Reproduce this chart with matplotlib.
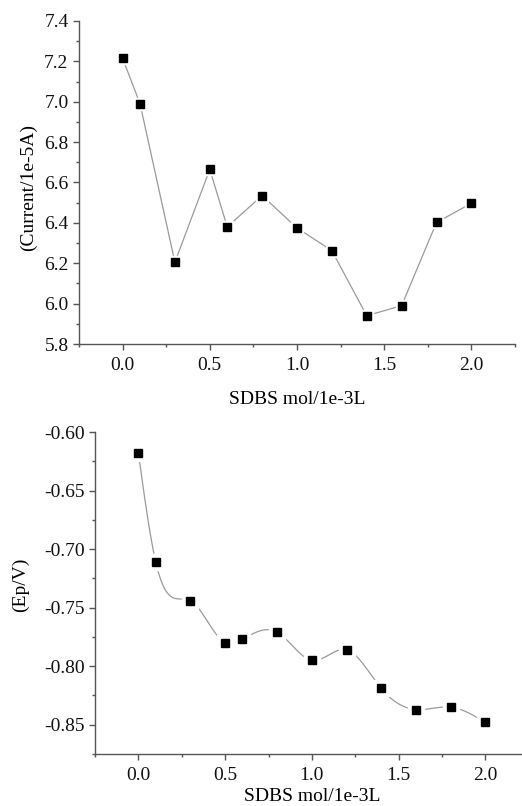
import numpy as np
import matplotlib
matplotlib.use("Agg")
import matplotlib.pyplot as plt
from matplotlib.ticker import MultipleLocator, FormatStrFormatter

plt.rcParams['font.family'] = ['Liberation Serif', 'DejaVu Serif']

sdbs = [0.0, 0.1, 0.3, 0.5, 0.6, 0.8, 1.0, 1.2, 1.4, 1.6, 1.8, 2.0]
current = [7.215, 6.99, 6.205, 6.665, 6.38, 6.535, 6.375, 6.262, 5.94, 5.99, 6.402, 6.497]
ep = [-0.618, -0.711, -0.744, -0.780, -0.777, -0.771, -0.795, -0.786, -0.819, -0.837, -0.835, -0.848]

xlabel = "SDBS mol/1e-3L"
ylabel_top = "(Current/1e-5A)"
ylabel_bot = "(Ep/V)"


def natural_spline(x, y, n=400):
    x = np.asarray(x, float); y = np.asarray(y, float)
    k = len(x); h = np.diff(x)
    A = np.zeros((k, k)); b = np.zeros(k)
    A[0, 0] = 1; A[-1, -1] = 1
    for i in range(1, k - 1):
        A[i, i - 1] = h[i - 1]; A[i, i] = 2 * (h[i - 1] + h[i]); A[i, i + 1] = h[i]
        b[i] = 3 * ((y[i + 1] - y[i]) / h[i] - (y[i] - y[i - 1]) / h[i - 1])
    c = np.linalg.solve(A, b)
    xs = np.linspace(x[0], x[-1], n)
    idx = np.clip(np.searchsorted(x, xs) - 1, 0, k - 2)
    dx = xs - x[idx]
    bb = (y[1:] - y[:-1]) / h - h * (2 * c[:-1] + c[1:]) / 3
    d = (c[1:] - c[:-1]) / (3 * h)
    ys = y[idx] + bb[idx] * dx + c[idx] * dx ** 2 + d[idx] * dx ** 3
    return xs, ys


fig = plt.figure(figsize=(5.22, 8.06), dpi=100)
spine_c = '#555555'
line_c = '#9a9a9a'
fs = 14


def style(ax):
    for s in ['top', 'right']:
        ax.spines[s].set_visible(False)
    for s in ['left', 'bottom']:
        ax.spines[s].set_color(spine_c)
        ax.spines[s].set_linewidth(1.0)
    ax.tick_params(which='major', direction='out', length=4.5, width=1, color=spine_c,
                   labelsize=fs, labelcolor='#111111', pad=3)
    ax.tick_params(which='minor', direction='out', length=2.5, width=1, color=spine_c)
    ax.tick_params(axis='x', which='major', pad=5)
    ax.xaxis.set_major_locator(MultipleLocator(0.5))
    ax.xaxis.set_minor_locator(MultipleLocator(0.25))
    ax.xaxis.set_major_formatter(FormatStrFormatter('%.1f'))
    ax.set_xlim(-0.25, 2.25)


# Top chart
ax1 = fig.add_axes([0.1513, 0.5732, 0.8353, 0.4008])
style(ax1)
ax1.plot(sdbs, current, color=line_c, lw=0.9, zorder=1)
ax1.plot(sdbs, current, ls='none', marker='s', ms=8.5, color='white', zorder=2)
ax1.plot(sdbs, current, ls='none', marker='s', ms=5.3, color='black', zorder=3)
ax1.set_ylim(5.8, 7.4)
ax1.yaxis.set_major_locator(MultipleLocator(0.2))
ax1.yaxis.set_minor_locator(MultipleLocator(0.1))
ax1.yaxis.set_major_formatter(FormatStrFormatter('%.1f'))
ax1.set_xlabel(xlabel, fontsize=fs, labelpad=12)
ax1.set_ylabel(ylabel_top, fontsize=fs, labelpad=5)
ax1.yaxis.label.set_y(0.483)

# Bottom chart
ax2 = fig.add_axes([0.182, 0.0645, 0.831, 0.3995])
style(ax2)
xs, ys = natural_spline(sdbs, ep)
ax2.plot(xs, ys, color=line_c, lw=0.9, zorder=1)
ax2.plot(sdbs, ep, ls='none', marker='s', ms=11, color='white', zorder=2)
ax2.plot(sdbs, ep, ls='none', marker='s', ms=5.3, color='black', zorder=3)
ax2.set_ylim(-0.875, -0.60)
ax2.yaxis.set_major_locator(MultipleLocator(0.05))
ax2.yaxis.set_minor_locator(MultipleLocator(0.025))
ax2.yaxis.set_major_formatter(FormatStrFormatter('%.2f'))
ax2.set_xlabel(xlabel, fontsize=fs, labelpad=3)
ax2.set_ylabel(ylabel_bot, fontsize=fs, labelpad=11)
ax2.yaxis.label.set_y(0.525)

fig.savefig('out.png', dpi=100)
